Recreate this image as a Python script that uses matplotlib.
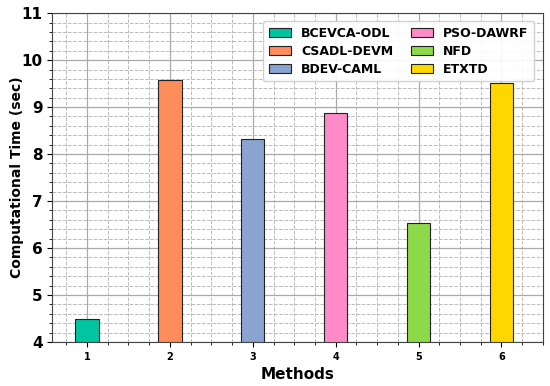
import matplotlib
matplotlib.use("Agg")
import matplotlib.pyplot as plt
from matplotlib.ticker import MultipleLocator

methods = [1, 2, 3, 4, 5, 6]
labels = ["BCEVCA-ODL", "CSADL-DEVM", "BDEV-CAML", "PSO-DAWRF", "NFD", "ETXTD"]
values = [4.48, 9.58, 8.32, 8.87, 6.53, 9.52]
colors = ["#00C5A0", "#FF8C5A", "#8AA4CF", "#FF8AC8", "#8ED94A", "#FFD700"]

fig, ax = plt.subplots(figsize=(5.5, 3.86), dpi=100)
fig.subplots_adjust(left=0.095, right=0.987, top=0.966, bottom=0.114)

for m, v, c, l in zip(methods, values, colors, labels):
    ax.bar(m, v - 4, bottom=4, width=0.28, color=c, edgecolor="#222222", linewidth=0.8, label=l, zorder=3)

ax.set_ylim(4, 11)
ax.set_xlim(0.58, 6.5)
ax.set_xticks(methods)
ax.yaxis.set_major_locator(MultipleLocator(1))
ax.yaxis.set_minor_locator(MultipleLocator(0.2))
ax.xaxis.set_minor_locator(MultipleLocator(0.25))
ax.grid(which="major", color="#aaaaaa", linestyle="-", linewidth=0.9, zorder=0)
ax.grid(which="minor", color="#bbbbbb", linestyle="--", linewidth=0.7, zorder=0)
ax.set_axisbelow(True)

for lab in ax.get_yticklabels():
    lab.set_fontweight("bold"); lab.set_fontsize(11)
for lab in ax.get_xticklabels():
    lab.set_fontweight("bold"); lab.set_fontsize(7)

ax.set_xlabel("Methods", fontweight="bold", fontsize=11)
ax.set_ylabel("Computational Time (sec)", fontweight="bold", fontsize=10)
ax.yaxis.set_label_coords(-0.058, 0.5)
for s in ax.spines.values():
    s.set_color("#444444")

ax.legend(ncol=2, loc="upper right", prop={"weight": "bold", "size": 9}, framealpha=0.9,
          columnspacing=1.4, handlelength=1.8, borderpad=0.45, labelspacing=0.4,
          bbox_to_anchor=(0.995, 0.995))

fig.savefig("out.png", dpi=100)
